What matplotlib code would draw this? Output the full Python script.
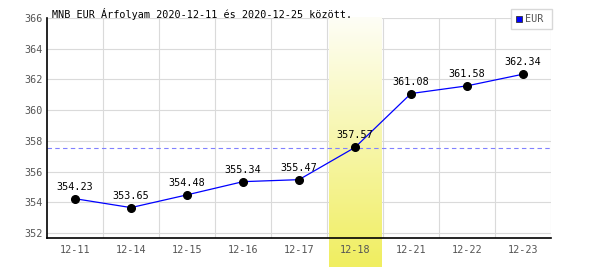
import numpy as np
import matplotlib
matplotlib.use("Agg")
import matplotlib.pyplot as plt
from matplotlib.colors import LinearSegmentedColormap

dates = ["12-11", "12-14", "12-15", "12-16", "12-17", "12-18", "12-21", "12-22", "12-23"]
rates = [354.23, 353.65, 354.48, 355.34, 355.47, 357.57, 361.08, 361.58, 362.34]
average = 357.55
highlight = "12-18"
yticks = [352, 354, 356, 358, 360, 362, 364, 366]

mono = "DejaVu Sans Mono"

fig = plt.figure(figsize=(6, 2.7), dpi=100)
ax = fig.add_axes([47 / 600, 32 / 270, 504 / 600, 220 / 270])

x = np.arange(len(dates))

# grid
for v in yticks:
    ax.axhline(v, color="#dadada", lw=0.8, zorder=0)
for b in np.arange(0.5, len(dates), 1.0):
    ax.axvline(b, color="#dadada", lw=0.8, zorder=0)

# highlighted day, gradient from white to yellow, running below the axis
hi = dates.index(highlight)
cmap = LinearSegmentedColormap.from_list("hl", ["#fefef6", "#f0ee60"])
grad = np.linspace(0, 1, 256).reshape(-1, 1)
ax.imshow(grad, cmap=cmap, aspect="auto", origin="upper",
          extent=[hi - 0.5 + 0.04, hi + 0.5 - 0.02, 349.78, 366],
          zorder=0.5, clip_on=False)
ax.set_xlim(-0.5, len(dates) - 0.5)
ax.set_ylim(351.67, 366)

ax.axhline(average, color="#8080ff", lw=0.8, ls=(0, (4, 3)), zorder=1)

ax.plot(x, rates, color="#0000ff", lw=0.9, zorder=2)
ax.plot(x, rates, "o", color="black", ms=5.5, zorder=3)
for xi, r in zip(x, rates):
    ax.annotate(f"{r:.2f}", (xi, r), xytext=(0, 5), textcoords="offset points",
                ha="center", va="bottom", fontsize=7.3, family=mono, color="black", zorder=4)

for s in ["top", "right"]:
    ax.spines[s].set_visible(False)
ax.spines["left"].set_linewidth(1.2)
ax.spines["bottom"].set_linewidth(1.2)
ax.set_xticks(x)
ax.set_xticklabels(dates, family=mono, fontsize=7.3, color="#555555")
ax.set_yticks(yticks)
ax.set_yticklabels([str(v) for v in yticks], family=mono, fontsize=7.3, color="#555555")
ax.tick_params(axis="y", length=0, pad=3)
ax.tick_params(axis="x", length=0, pad=5)

fig.text(52 / 600, 1 - 14 / 270, "MNB EUR Árfolyam 2020-12-11 és 2020-12-25 között.",
         family=mono, fontsize=7.3, color="black", va="center", ha="left")

# legend box
fig.patches.append(plt.Rectangle((511 / 600, 1 - 29 / 270), 41 / 600, 20 / 270,
                                 transform=fig.transFigure, facecolor="white",
                                 edgecolor="#d8d8d8", lw=1, zorder=5))
fig.patches.append(plt.Rectangle((516 / 600, 1 - 22 / 270), 6 / 600, 6 / 270,
                                 transform=fig.transFigure, facecolor="#0000ff",
                                 edgecolor="#333333", lw=0.6, zorder=6))
fig.text(525 / 600, 1 - 19 / 270, "EUR", family=mono, fontsize=7.3,
         color="#555555", va="center", ha="left", zorder=7)

fig.savefig("out.png", dpi=100)
